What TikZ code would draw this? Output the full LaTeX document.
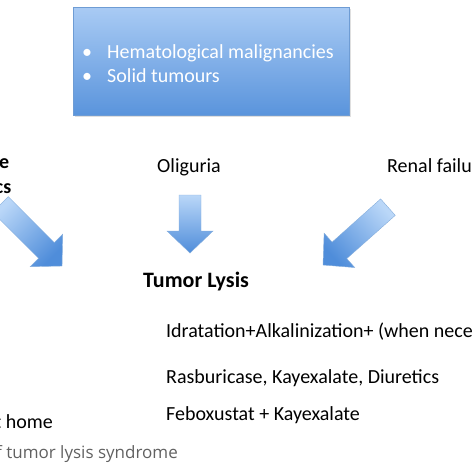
\documentclass[tikz,border=0pt]{standalone}
\usepackage{fontspec}
\setmainfont{Carlito}
\newfontfamily\capfont{Open Sans}
\usetikzlibrary{shadows}
\definecolor{boxtop}{HTML}{A9CBF4}
\definecolor{boxbot}{HTML}{5A94DC}
\definecolor{boxedge}{HTML}{6E9CD4}
\definecolor{arrlight}{HTML}{BAD7F8}
\definecolor{arrdark}{HTML}{4F8DDA}
\definecolor{arredge}{HTML}{86AEDC}
\definecolor{capgray}{HTML}{616161}
\tikzset{
  lbl/.style={font=\fontsize{20}{24}\selectfont, inner sep=0pt, anchor=base west, text=black},
  lblb/.style={lbl, font=\fontsize{20}{24}\selectfont\bfseries},
  boxtxt/.style={lbl, text=white},
  capt/.style={inner sep=0pt, anchor=base west, text=capgray, font=\capfont\fontsize{17}{20}\selectfont},
  srcbox/.style={draw=boxedge, line width=0.5pt, top color=boxtop, bottom color=boxbot,
    minimum width=276pt, minimum height=108pt, inner sep=0pt,
    drop shadow={opacity=0.25, shadow xshift=1.5pt, shadow yshift=-1.5pt}},
  arrowshade/.style={draw=arredge, line width=0.4pt, top color=arrlight, bottom color=arrdark}
}
% name, tip, rotation, length, shading angle
\newcommand\blockarr[5]{%
  \begin{scope}[shift={#2}, rotate=#3]
    \coordinate (#1-a) at (-#4, 11);
    \coordinate (#1-b) at (-22, 11);
    \coordinate (#1-c) at (-22, 23);
    \coordinate (#1-t) at (0, 0);
    \coordinate (#1-d) at (-22, -23);
    \coordinate (#1-e) at (-22, -11);
    \coordinate (#1-f) at (-#4, -11);
  \end{scope}
  \shade[arrowshade, shading angle=#5] (#1-a) -- (#1-b) -- (#1-c) -- (#1-t) -- (#1-d) -- (#1-e) -- (#1-f) -- cycle;
}
\begin{document}
\begin{tikzpicture}[x=1pt, y=-1pt]
  \useasboundingbox (0,0) rectangle (474,474);
  % source box
  \node[srcbox] (src) at (211,61) {};
  \node[boxtxt] (b1) at (82,58) {•};
  \node[boxtxt] (t1) at (107,58) {Hematological malignancies};
  \node[boxtxt] (b2) at (82,82) {•};
  \node[boxtxt] (t2) at (107,82) {Solid tumours};
  % causes
  \node[lblb, anchor=base east] (l1) at (9.5,168) {e};
  \node[lblb, anchor=base east] (l2) at (11.5,193) {cs};
  \node[lbl] (olig) at (157,172) {Oliguria};
  \node[lbl] (renal) at (387,172) {Renal failu};
  % arrows
  \blockarr{al}{(62,266)}{-45}{87}{45}
  \blockarr{am}{(190,253)}{-90}{58}{0}
  \blockarr{ar}{(323,265)}{-138.3}{87}{-48.3}
  % center
  \node[lblb, font=\fontsize{22}{26}\selectfont\bfseries] (tls) at (143,287) {Tumor Lysis};
  \node[lbl] (r1) at (166,337) {Idratation+Alkalinization+ (when nece};
  \node[lbl] (r2) at (166,383) {Rasburicase, Kayexalate, Diuretics};
  \node[lbl] (r3) at (166,420) {Feboxustat + Kayexalate};
  \node[lbl, anchor=base east] (home) at (53,428) {t home};
  \node[capt] (cap) at (-4,458) {f tumor lysis syndrome};
\end{tikzpicture}
\end{document}
